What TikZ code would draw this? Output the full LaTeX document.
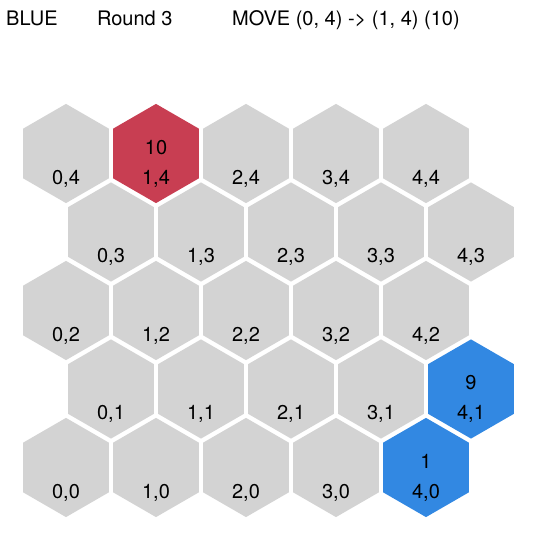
\documentclass[tikz,border=0pt]{standalone}
\usepackage{fontspec}
\setmainfont{TeX Gyre Heros}
\usetikzlibrary{shapes.geometric, positioning}
\definecolor{cellgray}{RGB}{211,211,211}
\definecolor{cellred}{RGB}{200,62,82}
\definecolor{cellblue}{RGB}{50,136,226}

\begin{document}
\begin{tikzpicture}[
  x=1pt, y=-1pt,
  hexcell/.style={regular polygon, regular polygon sides=6, shape border rotate=30,
                  minimum size=99.2pt, inner sep=0pt, fill=cellgray, draw=none},
  txt/.style={font=\fontsize{20}{24}\selectfont, inner sep=0pt, anchor=base},
  cell 1-4/.style={fill=cellred},
  cell 4-1/.style={fill=cellblue},
  cell 4-0/.style={fill=cellblue}
]
  \useasboundingbox (0,0) rectangle (536,534);

  % header line
  \node[txt, anchor=base west] (player) at (6,26)   {BLUE};
  \node[txt, anchor=base west] (round)  at (96.8,26) {Round 3};
  \node[txt, anchor=base west] (move)   at (232,26) {MOVE (0, 4) -> (1, 4) (10)};

  % board
  \foreach \r in {0,...,4}{
    \foreach \c in {0,...,4}{
      \pgfmathsetmacro{\hx}{66+90*\c+45*mod(\r,2)}
      \pgfmathsetmacro{\hy}{153.5+78.5*(4-\r)}
      \node[hexcell, cell \c-\r/.try] (h\c\r) at (\hx,\hy) {};
      \node[txt] (l\c\r) at ([yshift=-30.8pt]h\c\r.center) {\c,\r};
    }
  }

  % stack counts
  \node[txt] (n14) at ([yshift=-0.8pt]h14.center) {10};
  \node[txt] (n41) at ([yshift=-0.8pt]h41.center) {9};
  \node[txt] (n40) at ([yshift=-0.8pt]h40.center) {1};
\end{tikzpicture}
\end{document}
